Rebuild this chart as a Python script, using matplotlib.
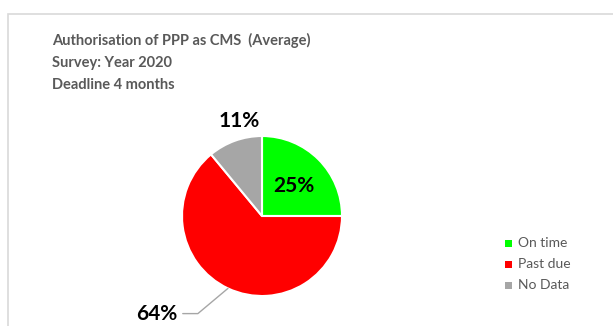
import numpy as np
import matplotlib.pyplot as plt
from matplotlib.patches import Rectangle

# Datos del gráfico
categories = ['On time', 'Past due', 'No Data']
shares = [25, 64, 11]
colors = ['#00ff00', '#ff0000', '#a6a6a6']
title_lines = ['Authorisation of PPP as CMS  (Average)', 'Survey: Year 2020', 'Deadline 4 months']

W, H = 613, 326
fig = plt.figure(figsize=(W / 100, H / 100), dpi=100)
plt.rcParams['font.family'] = ['Lato', 'DejaVu Sans']

# Marco del área del gráfico
fig.patches.append(Rectangle((8 / W, -0.1), 1.0, (H - 14) / H + 0.1, transform=fig.transFigure,
                             fill=False, edgecolor='#d9d9d9', linewidth=1.2))

# Título en tres líneas
for i, line in enumerate(title_lines):
    fig.text(52 / W, 1 - (40 + 22.5 * i) / H, line, fontsize=10.5, fontweight='bold',
             color='#595959', va='center', ha='left')

# Pastel: centro (262, 216) px, radio 80 px
cx, cy, r = 262, 216, 80
ax = fig.add_axes([(cx - r) / W, (H - cy - r) / H, 2 * r / W, 2 * r / H])
wedges, _ = ax.pie(shares, colors=colors, startangle=90, counterclock=False,
                   wedgeprops=dict(edgecolor='white', linewidth=1.5))
ax.set_xlim(-1, 1)
ax.set_ylim(-1, 1)
ax.set_aspect('equal')
ax.axis('off')

mids = [np.deg2rad((w.theta1 + w.theta2) / 2) for w in wedges]

# Etiquetas de porcentaje
ax.text(0.56 * np.cos(mids[0]), 0.53 * np.sin(mids[0]), f'{shares[0]}%', fontsize=15,
        fontweight='bold', ha='center', va='center', color='black')
ax.text(-0.28, 1.19, f'{shares[2]}%', fontsize=15, fontweight='bold',
        ha='center', va='center', color='black', clip_on=False)
ax.annotate(f'{shares[1]}%', xy=(np.cos(mids[1]), np.sin(mids[1])), xytext=(-1.06, -1.22),
            fontsize=15, fontweight='bold', ha='right', va='center', color='black',
            annotation_clip=False,
            arrowprops=dict(arrowstyle='-', color='#a6a6a6', linewidth=1,
                            connectionstyle='angle,angleA=0,angleB=40,rad=0',
                            shrinkA=2, shrinkB=0))

# Leyenda
for i, (name, c) in enumerate(zip(categories, colors)):
    y = 1 - (243 + 21 * i) / H
    fig.patches.append(Rectangle((505 / W, y - 3.5 / H), 7 / W, 7 / H, transform=fig.transFigure,
                                 facecolor=c, edgecolor='none'))
    fig.text(518 / W, y, name, fontsize=10, color='#595959', va='center', ha='left')

plt.savefig('out.png', dpi=100)
